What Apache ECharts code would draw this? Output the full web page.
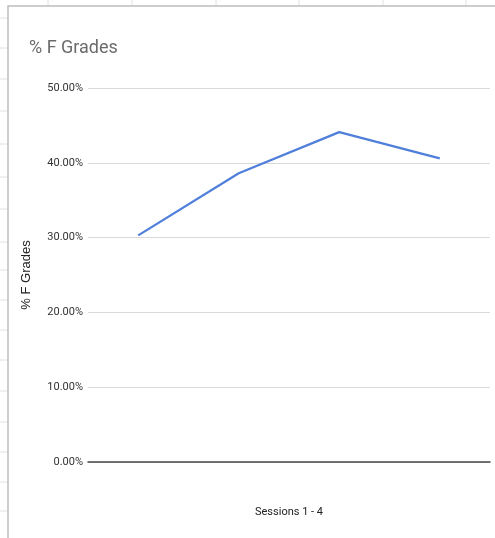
<!DOCTYPE html>
<html>
<head>
<meta charset="utf-8">
<script src="https://cdn.jsdelivr.net/npm/echarts@6/dist/echarts.min.js"></script>
<style>
html,body{margin:0;padding:0;background:#fff;}
#chart{width:495px;height:538px;}
</style>
</head>
<body>
<div id="chart"></div>
<script>
// Data
const categories = ['Session 1', 'Session 2', 'Session 3', 'Session 4'];
const fGradePct = [30.3, 38.6, 44.1, 40.6];
const yTicks = [0, 10, 20, 30, 40, 50];
const titleText = '% F Grades';
const yAxisName = '% F Grades';
const xAxisName = 'Sessions 1 - 4';

// Spreadsheet background decoration (outside the chart panel)
const sheetRowLines = [18, 48, 79, 111, 144, 177, 209, 242, 270, 300, 330, 360, 391, 422, 452, 482, 511];
const sheetColLines = [48, 132, 216, 299, 383, 466];

const font = 'Roboto, Arial, sans-serif';

const graphics = [];
sheetRowLines.forEach(y => graphics.push({
  type: 'line', silent: true,
  shape: {x1: 0, y1: y, x2: 8, y2: y},
  style: {stroke: '#e2e2e2', lineWidth: 1}
}));
sheetColLines.forEach(x => graphics.push({
  type: 'line', silent: true,
  shape: {x1: x, y1: 0, x2: x, y2: 6},
  style: {stroke: '#e2e2e2', lineWidth: 1}
}));
graphics.push({
  type: 'polyline', silent: true,
  shape: {points: [[8, 538], [8, 6], [495, 6]]},
  style: {stroke: '#bdbdbd', lineWidth: 1.5, fill: null}
});

const chart = echarts.init(document.getElementById('chart'));
chart.setOption({
  animation: false,
  backgroundColor: '#fff',
  graphic: graphics,
  title: {
    text: titleText,
    left: 24, top: 34,
    textStyle: {fontFamily: font, fontSize: 18, fontWeight: 'normal', color: '#6b6b6b'}
  },
  grid: {left: 88, right: 5, top: 88, bottom: 76, containLabel: false},
  xAxis: {
    type: 'category',
    data: categories,
    boundaryGap: true,
    name: xAxisName,
    nameLocation: 'middle',
    nameGap: 45,
    nameTextStyle: {fontFamily: font, fontSize: 11, color: '#222'},
    axisLine: {show: true, lineStyle: {color: '#444', width: 1.5}},
    axisTick: {show: false},
    axisLabel: {show: false},
    splitLine: {show: false}
  },
  yAxis: {
    type: 'value',
    min: yTicks[0],
    max: yTicks[yTicks.length - 1],
    interval: 10,
    name: yAxisName,
    nameLocation: 'middle',
    nameGap: 55,
    nameTextStyle: {fontFamily: 'Arial, "Liberation Sans", sans-serif', fontSize: 13, color: '#222'},
    axisLine: {show: false},
    axisTick: {show: false},
    axisLabel: {
      margin: 5,
      fontFamily: font,
      fontSize: 11,
      color: '#333',
      formatter: v => v.toFixed(2) + '%'
    },
    splitLine: {lineStyle: {color: '#d9d9d9', width: 1}}
  },
  series: [{
    type: 'line',
    data: fGradePct,
    symbol: 'none',
    lineStyle: {color: '#4f7fda', width: 2.2},
    itemStyle: {color: '#4f7fda'}
  }]
});
</script>
</body>
</html>
